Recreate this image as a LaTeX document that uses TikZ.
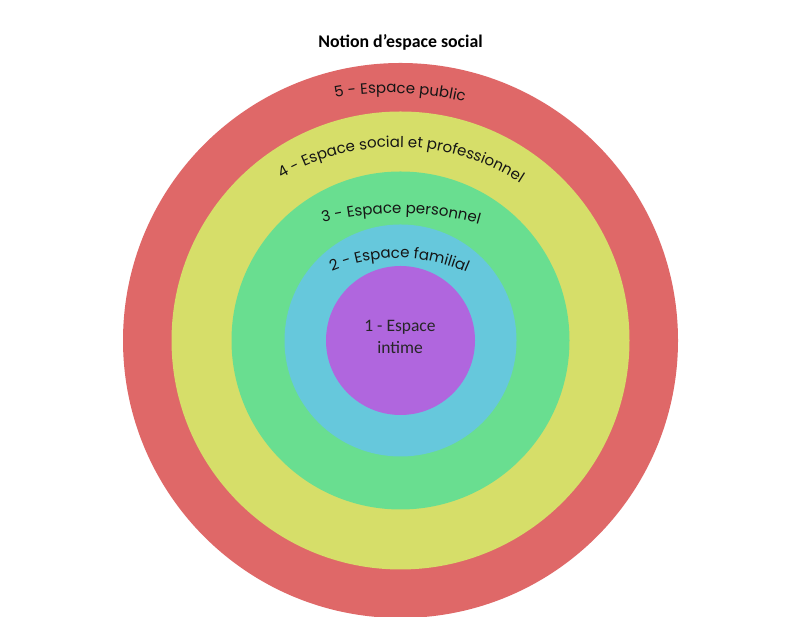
\documentclass[tikz,border=0pt]{standalone}
\usepackage{fontspec}
\setmainfont{Carlito}
\newfontfamily\poppinsfam{Poppins}
\usetikzlibrary{decorations.text}
\definecolor{ringred}{HTML}{DF6868}
\definecolor{ringyellow}{HTML}{D6DE69}
\definecolor{ringgreen}{HTML}{69DE90}
\definecolor{ringblue}{HTML}{66C8DC}
\definecolor{ringpurple}{HTML}{B066DE}
\definecolor{arctxt}{HTML}{151515}
\newcommand\arcfont{\poppinsfam\fontsize{15}{18}\selectfont}
\tikzset{
  ring/.style={circle, inner sep=0pt, draw=none},
  arclabel/.style={decorate, decoration={text along path, text={#1}, text align=center, text color=arctxt}}
}
\begin{document}
\begin{tikzpicture}[x=1pt,y=1pt]
\useasboundingbox (0,0) rectangle (800,617);
\fill[white] (0,0) rectangle (800,617);
\coordinate (c) at (400.5,276.5);
\node[ring, fill=ringred, minimum size=555] (r5) at (c) {};
\node[ring, fill=ringyellow, minimum size=458] (r4) at (c) {};
\node[ring, fill=ringgreen, minimum size=338] (r3) at (c) {};
\node[ring, fill=ringblue, minimum size=232] (r2) at (c) {};
\node[ring, fill=ringpurple, minimum size=149] (r1) at (c) {};
\node[anchor=base, font=\bfseries\fontsize{17.8}{21}\selectfont] (title) at (400.5,569) {Notion d’espace social};
\node[align=center, font=\fontsize{17.5}{21.5}\selectfont, text=black!85] (t1) at (400,280) {1 - Espace\\intime};
\path[arclabel={|\arcfont|5 - Espace public}, shift={(390,204)}] (108.2:320) arc[start angle=108.2, end angle=68.2, radius=320];
\path[arclabel={|\arcfont|4 - Espace social et professionnel}, shift={(397,243)}] (128.9:227) arc[start angle=128.9, end angle=48.9, radius=227];
\path[arclabel={|\arcfont|3 - Espace personnel}, shift={(398,104)}] (112.4:300) arc[start angle=112.4, end angle=66.4, radius=300];
\path[arclabel={|\arcfont|2 - Espace familial}, shift={(398,188)}] (124.5:171) arc[start angle=124.5, end angle=54.5, radius=171];
\end{tikzpicture}
\end{document}
